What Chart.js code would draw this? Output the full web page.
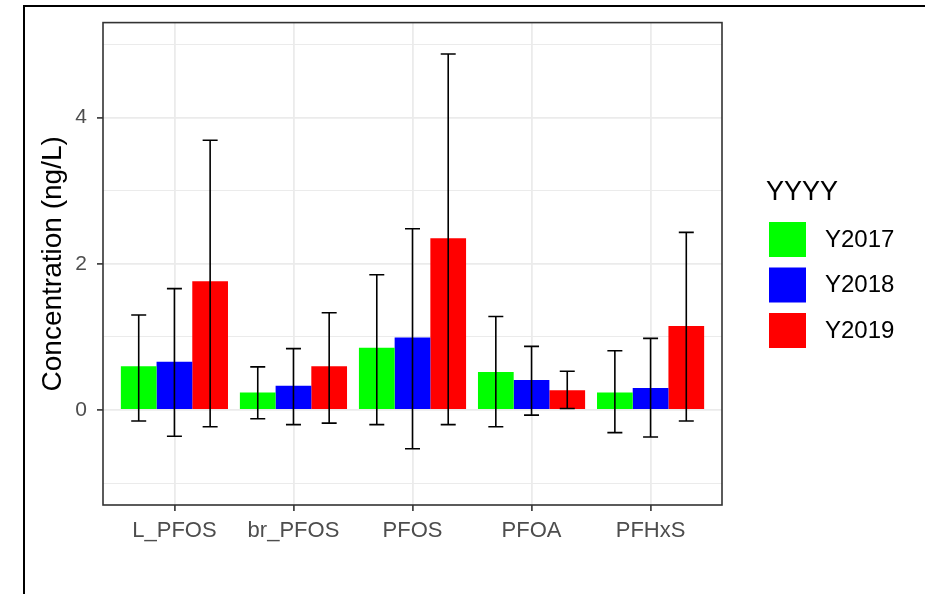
<!DOCTYPE html>
<html><head><meta charset="utf-8">
<script src="https://cdn.jsdelivr.net/npm/chart.js@4"></script>
<style>html,body{margin:0;padding:0;background:#fff;}canvas{display:block;}</style>
</head><body>
<canvas id="c" width="925" height="594"></canvas>
<script>
const categories = ['L_PFOS', 'br_PFOS', 'PFOS', 'PFOA', 'PFHxS'];
const seriesNames = ['Y2017', 'Y2018', 'Y2019'];
const seriesColors = ['#00FF00', '#0000FF', '#FF0000'];
const legendTitle = 'YYYY';
const yTitle = 'Concentration (ng/L)';
const yTickLabels = [0, 2, 4];

const y2017Mean  = [0.60, 0.24, 0.85, 0.52, 0.24];
const y2017Upper = [1.30, 0.59, 1.85, 1.28, 0.81];
const y2017Lower = [-0.15, -0.12, -0.20, -0.23, -0.31];

const y2018Mean  = [0.66, 0.33, 0.99, 0.41, 0.30];
const y2018Upper = [1.66, 0.84, 2.48, 0.87, 0.98];
const y2018Lower = [-0.36, -0.20, -0.53, -0.07, -0.37];

const y2019Mean  = [1.76, 0.60, 2.35, 0.27, 1.15];
const y2019Upper = [3.69, 1.33, 4.87, 0.53, 2.43];
const y2019Lower = [-0.23, -0.18, -0.20, 0.02, -0.15];

const means = [y2017Mean, y2018Mean, y2019Mean];
const uppers = [y2017Upper, y2018Upper, y2019Upper];
const lowers = [y2017Lower, y2018Lower, y2019Lower];

const FONT = '"Liberation Sans", Arial, sans-serif';

const datasets = seriesNames.map((name, s) => ({
  label: name,
  data: means[s].map((v, i) => ({ x: i, y: v })),
  backgroundColor: seriesColors[s],
  borderWidth: 0,
  categoryPercentage: 0.9,
  barPercentage: 1.0,
  errUpper: uppers[s],
  errLower: lowers[s]
}));

const pagePlugin = {
  id: 'page',
  beforeDraw(chart) {
    const ctx = chart.ctx;
    ctx.save();
    ctx.fillStyle = '#fff';
    ctx.fillRect(0, 0, chart.width, chart.height);
    ctx.strokeStyle = '#000';
    ctx.lineWidth = 2;
    ctx.beginPath();
    ctx.moveTo(24, chart.height);
    ctx.lineTo(24, 6);
    ctx.lineTo(chart.width, 6);
    ctx.stroke();
    ctx.restore();
  }
};

const errorBarPlugin = {
  id: 'errbars',
  afterDatasetsDraw(chart) {
    const ctx = chart.ctx;
    const ys = chart.scales.y;
    ctx.save();
    ctx.strokeStyle = '#000';
    ctx.lineWidth = 1.6;
    chart.data.datasets.forEach((ds, di) => {
      const meta = chart.getDatasetMeta(di);
      meta.data.forEach((bar, j) => {
        const x = bar.x;
        const yt = ys.getPixelForValue(ds.errUpper[j]);
        const yb = ys.getPixelForValue(ds.errLower[j]);
        const hw = 7.5;
        ctx.beginPath();
        ctx.moveTo(x, yt); ctx.lineTo(x, yb);
        ctx.moveTo(x - hw, yt); ctx.lineTo(x + hw, yt);
        ctx.moveTo(x - hw, yb); ctx.lineTo(x + hw, yb);
        ctx.stroke();
      });
    });
    ctx.restore();
  }
};

const frameLegendPlugin = {
  id: 'frameLegend',
  afterDraw(chart) {
    const ctx = chart.ctx;
    const a = chart.chartArea;
    ctx.save();
    ctx.strokeStyle = '#333333';
    ctx.lineWidth = 1.6;
    ctx.strokeRect(a.left, a.top, a.right - a.left, a.bottom - a.top);
    ctx.fillStyle = '#000';
    ctx.textAlign = 'left';
    ctx.textBaseline = 'alphabetic';
    ctx.font = '27px ' + FONT;
    ctx.fillText(legendTitle, 766, 200);
    ctx.font = '24px ' + FONT;
    ctx.textBaseline = 'middle';
    chart.data.datasets.forEach((ds, i) => {
      const y = 222 + 45.5 * i;
      ctx.fillStyle = ds.backgroundColor;
      ctx.fillRect(769, y, 37, 35);
      ctx.fillStyle = '#000';
      ctx.fillText(ds.label, 825, y + 18);
    });
    ctx.restore();
  }
};

new Chart(document.getElementById('c'), {
  type: 'bar',
  data: { datasets },
  options: {
    responsive: false,
    animation: false,
    events: [],
    layout: { padding: { left: 0, right: 203, top: 22, bottom: 0 } },
    plugins: { legend: { display: false }, tooltip: { enabled: false } },
    scales: {
      x: {
        type: 'linear',
        min: -0.6,
        max: 4.6,
        offset: false,
        afterBuildTicks(scale) { scale.ticks = categories.map((c, i) => ({ value: i })); },
        afterFit(scale) { scale.height = 89; },
        ticks: {
          autoSkip: false,
          maxRotation: 0,
          padding: 7,
          color: '#4D4D4D',
          font: { family: FONT, size: 22 },
          callback: (v) => categories[v]
        },
        grid: { offset: false, color: '#EBEBEB', lineWidth: 1.8, tickLength: 6, tickColor: '#333333', tickWidth: 1.6 },
        border: { display: false }
      },
      y: {
        type: 'linear',
        min: -1.3,
        max: 5.3,
        afterFit(scale) { scale.width = 103; },
        ticks: {
          stepSize: 1,
          includeBounds: false,
          padding: 10,
          color: '#4D4D4D',
          font: { family: FONT, size: 21 },
          callback: (v) => yTickLabels.includes(v) ? String(v) : ''
        },
        grid: {
          offset: false,
          color: '#EBEBEB',
          lineWidth: (c) => (c.tick && yTickLabels.includes(c.tick.value)) ? 1.8 : 1,
          tickLength: 6,
          tickWidth: 1.6,
          tickColor: (c) => (c.tick && yTickLabels.includes(c.tick.value)) ? '#333333' : 'rgba(0,0,0,0)'
        },
        border: { display: false },
        title: {
          display: true,
          text: yTitle,
          color: '#000',
          font: { family: FONT, size: 28 },
          padding: { top: 36, bottom: 0 }
        }
      }
    }
  },
  plugins: [pagePlugin, errorBarPlugin, frameLegendPlugin]
});
</script>
</body></html>
